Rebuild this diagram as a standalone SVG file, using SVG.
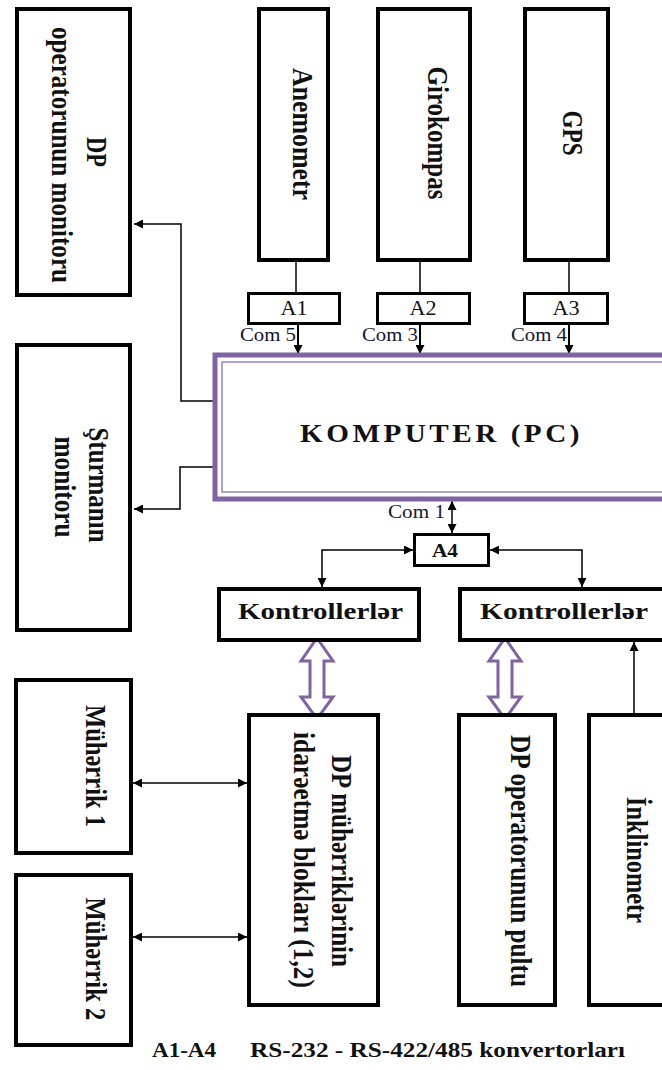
<svg xmlns="http://www.w3.org/2000/svg" width="662" height="1070" viewBox="0 0 662 1070">
  <style>
    .box { fill: #fff; stroke: #000; stroke-width: 4; }
    .conv { fill: #fff; stroke: #000; stroke-width: 3; }
    .wire { fill: none; stroke: #000; stroke-width: 1.5; }
    .feed { fill: none; stroke: #000; stroke-width: 2; }
    .bus { fill: #fff; stroke: #8064a2; stroke-width: 3; stroke-linejoin: miter; }
    .vt { font-family: "Liberation Serif", "Times New Roman", serif; font-weight: bold; font-size: 29px; fill: #111; text-anchor: middle; }
    .ht { font-family: "Liberation Serif", "Times New Roman", serif; fill: #111; text-anchor: middle; }
    .com { font-family: "Liberation Serif", "Times New Roman", serif; font-size: 18px; fill: #161633; }
  </style>
  <defs>
    <marker id="tip" viewBox="0 0 10 10" refX="10" refY="5" markerWidth="9" markerHeight="9" markerUnits="userSpaceOnUse" orient="auto-start-reverse">
      <path d="M0,0 L10,5 L0,10 z" fill="#000"/>
    </marker>
  </defs>

  <rect width="662" height="1070" fill="#fff"/>

  <!-- connectors -->
  <g id="connectors">
    <path class="wire" d="M296 262 V292"/>
    <path class="wire" d="M420 262 V292"/>
    <path class="wire" d="M569 262 V292"/>
    <path class="feed" d="M298 325 V354" marker-end="url(#tip)"/>
    <path class="feed" d="M420 325 V354" marker-end="url(#tip)"/>
    <path class="feed" d="M569 325 V354" marker-end="url(#tip)"/>
    <path class="wire" d="M213 401 H181 V224 H134" marker-end="url(#tip)"/>
    <path class="wire" d="M213 467 H180 V509 H134" marker-end="url(#tip)"/>
    <path class="wire" d="M452 501 V533" marker-start="url(#tip)" marker-end="url(#tip)"/>
    <path class="wire" d="M413 550 H322 V587" marker-start="url(#tip)" marker-end="url(#tip)"/>
    <path class="wire" d="M490 550 H582 V587" marker-start="url(#tip)" marker-end="url(#tip)"/>
    <path class="wire" d="M634 713 V642" marker-end="url(#tip)"/>
    <path class="wire" d="M133 783 H247" marker-start="url(#tip)" marker-end="url(#tip)"/>
    <path class="wire" d="M133 937 H247" marker-start="url(#tip)" marker-end="url(#tip)"/>
    <!-- hollow data buses -->
    <path class="bus" d="M317 638 L333 661 L324 661 L324 697 L333 697 L317 719 L301 697 L310 697 L310 661 L301 661 Z"/>
    <path class="bus" d="M505 638 L521 661 L512 661 L512 697 L521 697 L505 719 L489 697 L498 697 L498 661 L489 661 Z"/>
  </g>

  <g id="dp-monitor">
    <rect class="box" x="17" y="9" width="113" height="286"/>
    <text class="vt" transform="translate(87,152) rotate(90)" textLength="30" lengthAdjust="spacingAndGlyphs">DP</text>
    <text class="vt" transform="translate(52,155) rotate(90)" textLength="256" lengthAdjust="spacingAndGlyphs">operatorunun monitoru</text>
  </g>

  <g id="sturman-monitor">
    <rect class="box" x="17" y="345" width="113" height="285"/>
    <text class="vt" transform="translate(89,485) rotate(90)" textLength="115" lengthAdjust="spacingAndGlyphs">Şturmanın</text>
    <text class="vt" transform="translate(55,487) rotate(90)" textLength="101" lengthAdjust="spacingAndGlyphs">monitoru</text>
  </g>

  <g id="anemometr">
    <rect class="box" x="259" y="9" width="69" height="251"/>
    <text class="vt" transform="translate(293,134) rotate(90)" textLength="132" lengthAdjust="spacingAndGlyphs">Anemometr</text>
  </g>

  <g id="girokompas">
    <rect class="box" x="378" y="9" width="92" height="251"/>
    <text class="vt" transform="translate(428,133) rotate(90)" textLength="133" lengthAdjust="spacingAndGlyphs">Girokompas</text>
  </g>

  <g id="gps">
    <rect class="box" x="525" y="9" width="83" height="251"/>
    <text class="vt" transform="translate(563,133) rotate(90)" textLength="45" lengthAdjust="spacingAndGlyphs">GPS</text>
  </g>

  <g id="a1">
    <rect class="conv" x="248.5" y="293.5" width="91" height="30"/>
    <text class="ht" x="294" y="315" font-size="20" textLength="27" lengthAdjust="spacingAndGlyphs">A1</text>
    <text class="com" x="240" y="341" textLength="56" lengthAdjust="spacingAndGlyphs">Com 5</text>
  </g>

  <g id="a2">
    <rect class="conv" x="377.5" y="293.5" width="92" height="30"/>
    <text class="ht" x="423" y="315" font-size="20" textLength="27" lengthAdjust="spacingAndGlyphs">A2</text>
    <text class="com" x="362" y="341" textLength="56" lengthAdjust="spacingAndGlyphs">Com 3</text>
  </g>

  <g id="a3">
    <rect class="conv" x="524.5" y="293.5" width="83" height="30"/>
    <text class="ht" x="566" y="315" font-size="20" textLength="27" lengthAdjust="spacingAndGlyphs">A3</text>
    <text class="com" x="511" y="341" textLength="56" lengthAdjust="spacingAndGlyphs">Com 4</text>
  </g>

  <g id="komputer">
    <rect x="215" y="355" width="470" height="144" fill="#fff" stroke="#8064a2" stroke-width="5"/>
    <rect x="222" y="362" width="460" height="130" fill="none" stroke="#9a82bb" stroke-width="1.5"/>
    <text class="ht" x="441.5" y="442" font-size="25" font-weight="bold" letter-spacing="3" textLength="283" lengthAdjust="spacingAndGlyphs">KOMPUTER (PC)</text>
  </g>

  <g id="a4">
    <rect class="conv" x="414.5" y="534.5" width="74" height="31"/>
    <text class="ht" x="445" y="557" font-size="18" font-weight="bold" textLength="26" lengthAdjust="spacingAndGlyphs">A4</text>
    <text class="com" x="388" y="518" textLength="57" lengthAdjust="spacingAndGlyphs">Com 1</text>
  </g>

  <g id="kontroller-1">
    <rect class="box" x="219" y="589" width="200" height="51"/>
    <text class="ht" x="320.5" y="619" font-size="24" font-weight="bold" textLength="165" lengthAdjust="spacingAndGlyphs">Kontrollerlər</text>
  </g>

  <g id="kontroller-2">
    <rect class="box" x="460" y="589" width="240" height="51"/>
    <text class="ht" x="564" y="619" font-size="24" font-weight="bold" textLength="168" lengthAdjust="spacingAndGlyphs">Kontrollerlər</text>
  </g>

  <g id="muherrik-1">
    <rect class="box" x="16" y="680" width="115" height="173"/>
    <text class="vt" transform="translate(86,766) rotate(90)" textLength="122" lengthAdjust="spacingAndGlyphs">Mühərrik 1</text>
  </g>

  <g id="muherrik-2">
    <rect class="box" x="16" y="875" width="115" height="170"/>
    <text class="vt" transform="translate(86,959) rotate(90)" textLength="123" lengthAdjust="spacingAndGlyphs">Mühərrik 2</text>
  </g>

  <g id="idareetme-bloklari">
    <rect class="box" x="249" y="715" width="129" height="290"/>
    <text class="vt" transform="translate(332,861) rotate(90)" textLength="212" lengthAdjust="spacingAndGlyphs">DP mühərriklərinin</text>
    <text class="vt" transform="translate(294,860) rotate(90)" textLength="256" lengthAdjust="spacingAndGlyphs">idarəetmə blokları (1,2)</text>
  </g>

  <g id="operator-pultu">
    <rect class="box" x="459" y="715" width="96" height="290"/>
    <text class="vt" transform="translate(511,861) rotate(90)" textLength="252" lengthAdjust="spacingAndGlyphs">DP operatorunun pultu</text>
  </g>

  <g id="inklinometr">
    <rect class="box" x="589" y="715" width="120" height="290"/>
    <text class="vt" transform="translate(627,860) rotate(90)" textLength="126" lengthAdjust="spacingAndGlyphs">İnklinometr</text>
  </g>

  <g id="legend">
    <text class="ht" x="184" y="1057" font-size="21" font-weight="bold" textLength="64" lengthAdjust="spacingAndGlyphs">A1-A4</text>
    <text class="ht" x="437.5" y="1057" font-size="21" font-weight="bold" textLength="375" lengthAdjust="spacingAndGlyphs">RS-232 - RS-422/485 konvertorları</text>
  </g>
</svg>
